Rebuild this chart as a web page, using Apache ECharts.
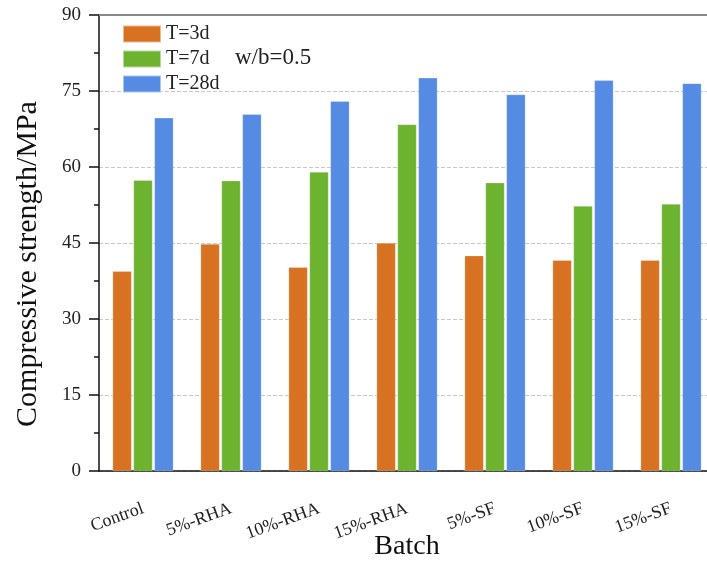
<!DOCTYPE html>
<html>
<head>
<meta charset="utf-8">
<script src="https://cdn.jsdelivr.net/npm/echarts@6/dist/echarts.min.js"></script>
<style>
  html, body { margin: 0; padding: 0; background: #fff; }
  #chart { width: 707px; height: 564px; }
</style>
</head>
<body>
<div id="chart"></div>
<script>
  // values (MPa)
  let batches = ['Control', '5%-RHA', '10%-RHA', '15%-RHA', '5%-SF', '10%-SF', '15%-SF'];
  let day3 = [39.4, 44.8, 40.2, 45.0, 42.5, 41.6, 41.6];
  let day7 = [57.4, 57.3, 59.0, 68.4, 56.9, 52.3, 52.7];
  let day28 = [69.7, 70.4, 73.0, 77.6, 74.3, 77.1, 76.5];
  let seriesNames = ['T=3d', 'T=7d', 'T=28d'];
  let colors = ['#d87223', '#6db32f', '#558be2'];

  let font = '"Liberation Serif", "DejaVu Serif", serif';
  let chart = echarts.init(document.getElementById('chart'));

  let makeBar = function (idx, data) {
    return {
      name: seriesNames[idx],
      type: 'bar',
      xAxisIndex: 0,
      barWidth: 19,
      barGap: '10%',
      itemStyle: {
        color: colors[idx],
        borderColor: 'rgba(255,255,255,0.5)',
        borderWidth: 0.5
      },
      data: data
    }
  }

  let option = {
    animation: false,
    textStyle: {fontFamily: font},
    grid: {
      left: 99,
      right: -8,
      top: 15,
      bottom: 93,
      outerBoundsMode: 'none'
    },
    legend: {
      orient: 'vertical',
      left: 122,
      top: 24,
      padding: 0,
      itemWidth: 38,
      itemHeight: 17,
      itemGap: 5,
      icon: 'rect',
      textStyle: {fontFamily: font, fontSize: 20, lineHeight: 17, color: '#222'},
      data: seriesNames
    },
    graphic: [{
      type: 'text',
      left: 235,
      top: 46,
      style: {text: 'w/b=0.5', fontFamily: font, fontSize: 23, fill: '#222'}
    }],
    xAxis: [
      {
        type: 'category',
        position: 'bottom',
        data: batches,
        name: 'Batch',
        nameLocation: 'middle',
        nameGap: 62,
        nameMoveOverlap: false,
        nameTextStyle: {fontFamily: font, fontSize: 28, color: '#111'},
        axisLine: {lineStyle: {color: '#111', width: 1.5}},
        axisTick: {alignWithLabel: true, length: 9, lineStyle: {color: '#111', width: 1.5}},
        axisLabel: {
          rotate: 20,
          margin: 37,
          fontFamily: font,
          fontSize: 18,
          color: '#222'
        }
      },
      {
        type: 'category',
        position: 'bottom',
        data: batches,
        axisLine: {show: false},
        axisTick: {length: 5, lineStyle: {color: '#111', width: 1.5}},
        axisLabel: {show: false}
      },
      {
        type: 'category',
        position: 'top',
        data: batches,
        axisLine: {lineStyle: {color: '#888', width: 2}},
        axisTick: {show: false},
        axisLabel: {show: false}
      }
    ],
    yAxis: {
      type: 'value',
      min: 0,
      max: 90,
      interval: 15,
      name: 'Compressive strength/MPa',
      nameLocation: 'middle',
      nameGap: 56,
      nameMoveOverlap: false,
      nameTextStyle: {fontFamily: font, fontSize: 30, color: '#111', padding: [0, 42, 0, 0]},
      axisLine: {show: true, lineStyle: {color: '#111', width: 1.5}},
      axisTick: {show: true, length: 10, lineStyle: {color: '#111', width: 1.5}},
      minorTick: {show: true, splitNumber: 2, length: 5, lineStyle: {color: '#111', width: 1.5}},
      axisLabel: {fontFamily: font, fontSize: 19, color: '#222', margin: 18},
      splitLine: {
        lineStyle: {color: '#c8c8c8', type: 'dashed', width: 1}
      }
    },
    series: [makeBar(0, day3), makeBar(1, day7), makeBar(2, day28)]
  };
  chart.setOption(option);
</script>
</body>
</html>
